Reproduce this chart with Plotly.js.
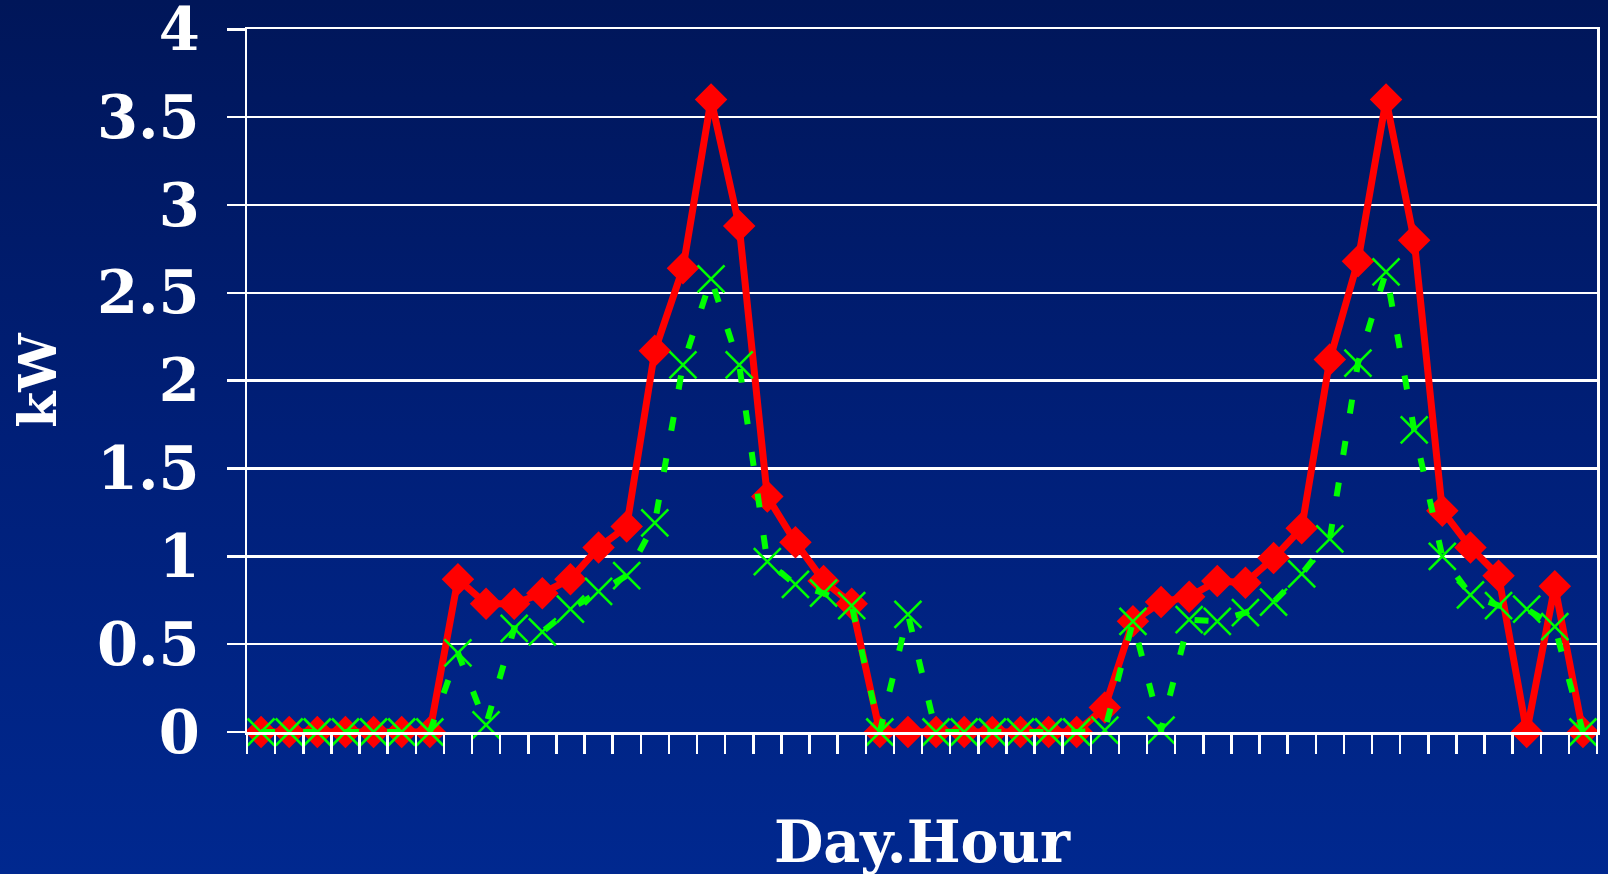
<!DOCTYPE html>
<html>
<head>
<meta charset="utf-8">
<script src="https://cdn.plot.ly/plotly-3.0.1.min.js"></script>
<style>
  html, body { margin: 0; padding: 0; }
  body { width: 1608px; height: 874px; overflow: hidden;
         background: linear-gradient(to bottom, #001659 0%, #001f78 50%, #00288f 100%); }
  #chart { width: 1608px; height: 900px; }
</style>
</head>
<body>
<div id="chart"></div>
<script>
// Categories: Day.Hour (2 days x 24 hours)
var hours = [
  "1.01","1.02","1.03","1.04","1.05","1.06","1.07","1.08","1.09","1.10","1.11","1.12",
  "1.13","1.14","1.15","1.16","1.17","1.18","1.19","1.20","1.21","1.22","1.23","1.24",
  "2.01","2.02","2.03","2.04","2.05","2.06","2.07","2.08","2.09","2.10","2.11","2.12",
  "2.13","2.14","2.15","2.16","2.17","2.18","2.19","2.20","2.21","2.22","2.23","2.24"
];

// Red series (solid line, diamond markers), kW
var redSeries = [
  0, 0, 0, 0, 0, 0, 0, 0.87, 0.73, 0.73, 0.79, 0.87,
  1.05, 1.17, 2.17, 2.64, 3.60, 2.88, 1.34, 1.08, 0.86, 0.73, 0, 0,
  0, 0, 0, 0, 0, 0, 0.14, 0.63, 0.74, 0.77, 0.86, 0.85,
  0.99, 1.16, 2.12, 2.68, 3.60, 2.80, 1.26, 1.05, 0.89, 0, 0.83, 0
];

// Green series (dashed line, x markers), kW
var greenSeries = [
  0, 0, 0, 0, 0, 0, 0, 0.45, 0.04, 0.59, 0.57, 0.70,
  0.80, 0.89, 1.19, 2.09, 2.58, 2.09, 0.97, 0.84, 0.79, 0.72, 0, 0.67,
  0, 0, 0, 0, 0, 0, 0.01, 0.63, 0.01, 0.64, 0.63, 0.68,
  0.74, 0.90, 1.10, 2.10, 2.62, 1.72, 1.00, 0.78, 0.72, 0.70, 0.60, 0
];

var yTickVals = [0, 0.5, 1, 1.5, 2, 2.5, 3, 3.5, 4];
var yTickText = ["0", "0.5", "1", "1.5", "2", "2.5", "3", "3.5", "4"];

var fontFam = "DejaVu Serif, serif";

var traces = [
  {
    x: hours, y: redSeries, type: "scatter", mode: "lines+markers",
    cliponaxis: false,
    line: { color: "#ff0000", width: 7 },
    marker: { symbol: "diamond", size: 25, color: "#ff0000" },
    showlegend: false, hoverinfo: "skip"
  },
  {
    x: hours, y: greenSeries, type: "scatter", mode: "lines+markers",
    cliponaxis: false,
    line: { color: "#00ff00", width: 6, dash: "14px,28px" },
    marker: { symbol: "x-thin-open", size: 27, color: "#00ff00",
              line: { color: "#00ff00", width: 2.5 } },
    showlegend: false, hoverinfo: "skip"
  }
];

var layout = {
  width: 1608, height: 900,
  margin: { l: 247, r: 11, t: 29, b: 168 },
  paper_bgcolor: "rgba(0,0,0,0)",
  plot_bgcolor: "rgba(0,0,0,0)",
  showlegend: false,
  xaxis: {
    type: "category",
    range: [-0.5, 47.5],
    autorange: false,
    tickson: "boundaries",
    ticks: "outside", ticklen: 19, tickwidth: 2.5, tickcolor: "#ffffff",
    showticklabels: false,
    showgrid: false,
    showline: true, linecolor: "#ffffff", linewidth: 2.5, mirror: true,
    zeroline: false,
    title: { text: "Day.Hour", standoff: 89,
             font: { family: fontFam, size: 57, color: "#ffffff", weight: "bold" } }
  },
  yaxis: {
    range: [0, 4.002],
    autorange: false,
    tickvals: yTickVals, ticktext: yTickText,
    ticks: "outside", ticklen: 18, tickwidth: 2.5, tickcolor: "#ffffff",
    ticklabelstandoff: 15,
    ticklabeloverflow: "allow",
    tickfont: { family: fontFam, size: 59, color: "#ffffff", weight: "bold" },
    showgrid: true, gridcolor: "#ffffff", gridwidth: 2.5,
    showline: true, linecolor: "#ffffff", linewidth: 2.5, mirror: true,
    zeroline: false,
    title: { text: "kW", standoff: 24,
             font: { family: fontFam, size: 52, color: "#ffffff", weight: "bold" } }
  }
};

Plotly.newPlot("chart", traces, layout, { displayModeBar: false, staticPlot: true });
</script>
</body>
</html>
